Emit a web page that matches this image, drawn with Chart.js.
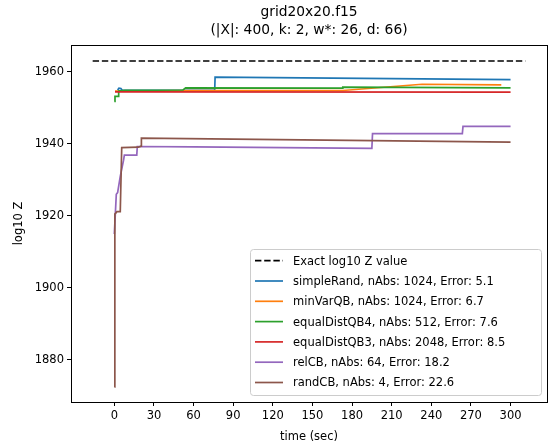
<!DOCTYPE html>
<html>
<head>
<meta charset="utf-8">
<script src="https://cdn.jsdelivr.net/npm/chart.js@4"></script>
<style>
    body { margin: 0; background: #fff; }
    canvas { display: block; }
</style>
</head>
<body>
<canvas id="chart" width="549" height="448"></canvas>
<script>
// ==================== DATA ====================
const titleLines = ['grid20x20.f15', '(|X|: 400, k: 2, w*: 26, d: 66)'];
const xTicks = [0, 30, 60, 90, 120, 150, 180, 210, 240, 270, 300];
const yTicks = [1880, 1900, 1920, 1940, 1960];

const seriesNames = [
    'Exact log10 Z value',
    'simpleRand, nAbs: 1024, Error: 5.1',
    'minVarQB, nAbs: 1024, Error: 6.7',
    'equalDistQB4, nAbs: 512, Error: 7.6',
    'equalDistQB3, nAbs: 2048, Error: 8.5',
    'relCB, nAbs: 64, Error: 18.2',
    'randCB, nAbs: 4, Error: 22.6'
];
const seriesColors = ['#000000', '#1f77b4', '#ff7f0e', '#2ca02c', '#d62728', '#9467bd', '#8c564b'];

const exactT = [-16.4, 311.2];
const exactV = [1963.05, 1963.05];

const simpleRandT = [2.5, 3.5, 5, 6, 76, 76.3, 300];
const simpleRandV = [1955.0, 1955.5, 1955.4, 1954.9, 1955.0, 1958.6, 1957.9];

const minVarQBT = [0.5, 60, 173, 233, 293];
const minVarQBV = [1954.7, 1954.8, 1954.85, 1956.6, 1956.4];

const equalDistQB4T = [0, 0.5, 3, 3.3, 8, 52, 54, 172.5, 173, 300];
const equalDistQB4V = [1951.8, 1953.2, 1953.2, 1954.7, 1954.9, 1955.0, 1955.6, 1955.5, 1955.8, 1955.6];

const equalDistQB3T = [0.5, 300];
const equalDistQB3V = [1954.5, 1954.4];

const relCBT = [0, 1.5, 2.5, 4.5, 7, 7.6, 17, 17.4, 60, 195, 195.5, 263.5, 264, 300];
const relCBV = [1915, 1926, 1926.5, 1931, 1935.5, 1936.9, 1936.9, 1939.3, 1939.2, 1938.8, 1942.9, 1942.9, 1944.9, 1944.9];

const randCBT = [0, 0.4, 2, 4.5, 5.6, 18.2, 20.2, 20.5, 300];
const randCBV = [1872.5, 1920.5, 1921.2, 1921.2, 1939.0, 1939.1, 1939.4, 1941.6, 1940.5];

const seriesT = [exactT, simpleRandT, minVarQBT, equalDistQB4T, equalDistQB3T, relCBT, randCBT];
const seriesV = [exactV, simpleRandV, minVarQBV, equalDistQB4V, equalDistQB3V, relCBV, randCBV];

// ==================== STYLE ====================
const FONT = "'DejaVu Sans', sans-serif";
const DASH = [6.4, 2.8];
Chart.defaults.font.family = FONT;
Chart.defaults.font.size = 11.5;
Chart.defaults.color = '#000';

function toPoints(ts, vs) {
    return ts.map((t, i) => ({ x: t, y: vs[i] }));
}

const datasets = seriesNames.map((name, i) => ({
    label: name,
    data: toPoints(seriesT[i], seriesV[i]),
    borderColor: seriesColors[i],
    backgroundColor: seriesColors[i],
    borderWidth: 1.7,
    borderDash: i === 0 ? DASH : [],
    pointRadius: 0,
    tension: 0,
    fill: false,
    order: seriesNames.length - i   // later series on top, like matplotlib
}));

// ==================== PLUGINS ====================
const frameAndText = {
    id: 'frameAndText',
    afterDatasetsDraw(chart) {
        const { ctx, chartArea: a } = chart;
        ctx.save();
        // axes box
        ctx.strokeStyle = '#000';
        ctx.lineWidth = 1;
        ctx.strokeRect(Math.round(a.left) + 0.5, Math.round(a.top) + 0.5,
            Math.round(a.right - a.left), Math.round(a.bottom - a.top));

        // title
        ctx.fillStyle = '#000';
        ctx.font = '13.8px ' + FONT;
        ctx.textAlign = 'center';
        ctx.textBaseline = 'middle';
        const cx = (a.left + a.right) / 2;
        ctx.fillText(titleLines[0], cx, 12);
        ctx.fillText(titleLines[1], cx, 30);

        // legend
        const lx = 250, ly = 249, lw = 291, lh = 146;
        ctx.beginPath();
        ctx.roundRect(lx + 0.5, ly + 0.5, lw, lh, 3);
        ctx.fillStyle = 'rgba(255,255,255,0.8)';
        ctx.fill();
        ctx.strokeStyle = '#cccccc';
        ctx.stroke();

        ctx.font = '11.5px ' + FONT;
        ctx.textAlign = 'left';
        chart.data.datasets.forEach((ds, i) => {
            const y = 260.7 + i * 20.3;
            ctx.beginPath();
            ctx.setLineDash(ds.borderDash);
            ctx.strokeStyle = ds.borderColor;
            ctx.lineWidth = 1.7;
            ctx.moveTo(255, y);
            ctx.lineTo(283, y);
            ctx.stroke();
            ctx.setLineDash([]);
            ctx.fillStyle = '#000';
            ctx.fillText(ds.label, 293, y + 1);
        });
        ctx.restore();
    }
};

// ==================== CHART ====================
new Chart(document.getElementById('chart'), {
    type: 'line',
    data: { datasets },
    options: {
        responsive: false,
        animation: false,
        layout: { padding: { top: 45, right: 2, left: 0, bottom: 0 } },
        plugins: {
            legend: { display: false },
            title: { display: false },
            tooltip: { enabled: false }
        },
        scales: {
            x: {
                type: 'linear',
                min: -32.8,
                max: 327.6,
                afterBuildTicks: s => { s.ticks = xTicks.map(v => ({ value: v })); },
                afterFit: s => { s.height = 46; },
                grid: { drawOnChartArea: false, drawTicks: true, tickLength: 4, color: '#000' },
                border: { display: false },
                ticks: { padding: 3, color: '#000', maxRotation: 0, callback: v => String(v) },
                title: { display: true, text: 'time (sec)', padding: { top: 2, bottom: 4 }, color: '#000' }
            },
            y: {
                type: 'linear',
                min: 1868.3,
                max: 1967.5,
                afterBuildTicks: s => { s.ticks = yTicks.map(v => ({ value: v })); },
                afterFit: s => { s.width = 71; },
                grid: { drawOnChartArea: false, drawTicks: true, tickLength: 4, color: '#000' },
                border: { display: false },
                ticks: { padding: 3, color: '#000', callback: v => String(v) },
                title: { display: true, text: 'log10 Z', padding: { top: 12, bottom: 4 }, color: '#000' }
            }
        }
    },
    plugins: [frameAndText]
});
</script>
</body>
</html>
